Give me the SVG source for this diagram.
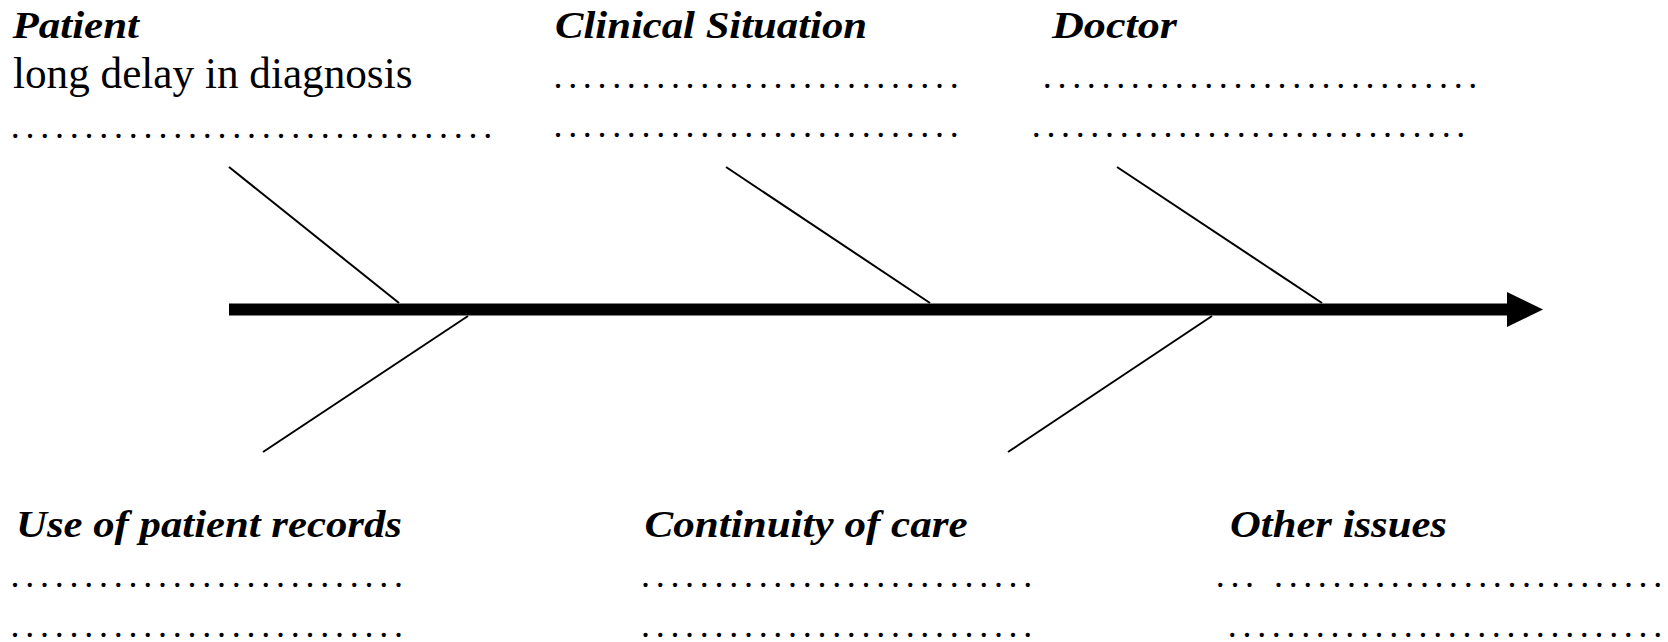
<svg xmlns="http://www.w3.org/2000/svg" width="1668" height="642" viewBox="0 0 1668 642">
  <style>
    text { font-family: 'Liberation Serif', 'DejaVu Serif', serif; fill: #000; }
    .head { font-weight: bold; font-style: italic; font-size: 37px; }
    .body { font-size: 44px; }
    .dots { font-size: 36px; }
    .bone { stroke: #000; stroke-width: 2; fill: none; }
    .spine { stroke: #000; stroke-width: 12; fill: none; }
  </style>
  <defs>
    <marker id="head" markerUnits="userSpaceOnUse" viewBox="0 0 36 35" markerWidth="36" markerHeight="35" refX="0" refY="17.5" orient="auto">
      <path d="M0,0 L36,17.5 L0,35 Z" fill="#000"/>
    </marker>
  </defs>
  <rect width="1668" height="642" fill="#fff"/>

  <g id="connectors">
    <line class="spine" x1="229" y1="309.5" x2="1507" y2="309.5" marker-end="url(#head)"/>
    <line class="bone" x1="229" y1="167" x2="399" y2="303"/>
    <line class="bone" x1="726" y1="167" x2="930" y2="303"/>
    <line class="bone" x1="1117" y1="167" x2="1322" y2="303"/>
    <line class="bone" x1="468" y1="316" x2="263" y2="452"/>
    <line class="bone" x1="1212" y1="316" x2="1008" y2="452"/>
  </g>

  <g id="patient">
    <text class="head" x="12.5" y="38" textLength="126.5" lengthAdjust="spacingAndGlyphs">Patient</text>
    <text class="body" x="13" y="88" textLength="399.5" lengthAdjust="spacingAndGlyphs">long delay in diagnosis</text>
    <text class="dots" x="10.7" y="138" textLength="481.6" lengthAdjust="spacing">.................................</text>
  </g>

  <g id="clinical-situation">
    <text class="head" x="555" y="38" textLength="312" lengthAdjust="spacingAndGlyphs">Clinical Situation</text>
    <text class="dots" x="553.5" y="88" textLength="405.2" lengthAdjust="spacing">............................</text>
    <text class="dots" x="553.5" y="137" textLength="405.2" lengthAdjust="spacing">............................</text>
  </g>

  <g id="doctor">
    <text class="head" x="1052" y="38" textLength="125" lengthAdjust="spacingAndGlyphs">Doctor</text>
    <text class="dots" x="1042.8" y="88" textLength="434.5" lengthAdjust="spacing">..............................</text>
    <text class="dots" x="1031.8" y="137" textLength="433.5" lengthAdjust="spacing">..............................</text>
  </g>

  <g id="patient-records">
    <text class="head" x="16" y="537" textLength="386" lengthAdjust="spacingAndGlyphs">Use of patient records</text>
    <text class="dots" x="10.6" y="587" textLength="392.3" lengthAdjust="spacing">...........................</text>
    <text class="dots" x="10.6" y="637" textLength="392.3" lengthAdjust="spacing">...........................</text>
  </g>

  <g id="continuity">
    <text class="head" x="644.6" y="537" textLength="323" lengthAdjust="spacingAndGlyphs">Continuity of care</text>
    <text class="dots" x="641" y="587" textLength="391.3" lengthAdjust="spacing">...........................</text>
    <text class="dots" x="641" y="637" textLength="391.3" lengthAdjust="spacing">...........................</text>
  </g>

  <g id="other-issues">
    <text class="head" x="1230" y="537" textLength="217" lengthAdjust="spacingAndGlyphs">Other issues</text>
    <text class="dots" x="1215.8" y="587" textLength="446.4" lengthAdjust="spacing" xml:space="preserve">... ...........................</text>
    <text class="dots" x="1227.8" y="637" textLength="434.4" lengthAdjust="spacing">..............................</text>
  </g>
</svg>
